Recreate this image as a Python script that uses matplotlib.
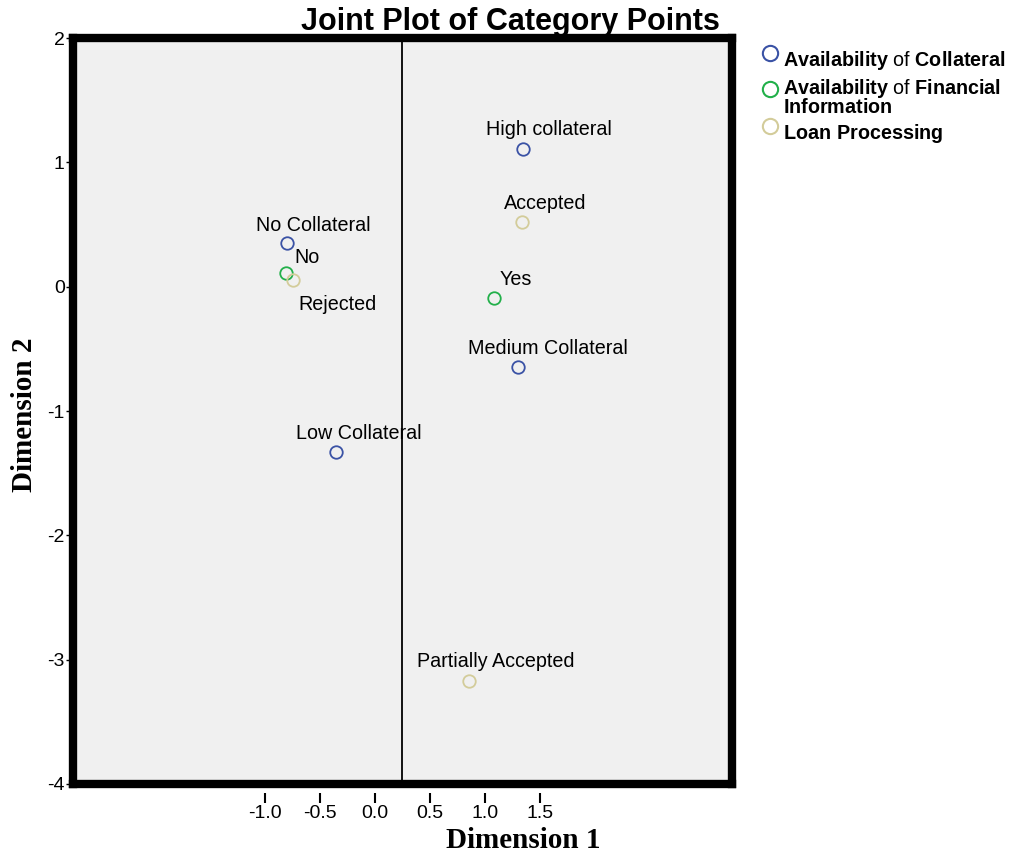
import matplotlib
matplotlib.use("Agg")
import matplotlib.pyplot as plt
from matplotlib.lines import Line2D

plt.rcParams['font.family'] = ['Liberation Sans', 'DejaVu Sans']
plt.rcParams['axes.unicode_minus'] = False
plt.rcParams['mathtext.fontset'] = 'custom'
plt.rcParams['mathtext.rm'] = 'Liberation Sans'
plt.rcParams['mathtext.bf'] = 'Liberation Sans:bold'

# category points (dimension 1, dimension 2)
labels = ["High collateral", "Accepted", "No Collateral", "No", "Rejected",
          "Yes", "Medium Collateral", "Low Collateral", "Partially Accepted"]
dim1 = [1.345, 1.336, -0.80, -0.81, -0.75, 1.08, 1.30, -0.36, 0.86]
dim2 = [1.11, 0.52, 0.35, 0.11, 0.05, -0.09, -0.65, -1.33, -3.17]
group = [0, 2, 0, 1, 2, 1, 0, 0, 2]

# legend entries, one list of text lines per variable
group_names = [[r"$\bf{Availability}$ of $\bf{Collateral}$"],
               [r"$\bf{Availability}$ of $\bf{Financial}$", r"$\bf{Information}$"],
               [r"$\bf{Loan\ Processing}$"]]
group_colors = ["#3a52a5", "#22b04a", "#d3cc9a"]

x_ticks = [-1.0, -0.5, 0.0, 0.5, 1.0, 1.5]
y_ticks = [-4, -3, -2, -1, 0, 1, 2]

# label offsets in points, relative to each point
offsets = [(19, 14), (17, 13), (19, 13), (15, 11.5), (32, -17),
           (16, 13), (22, 14), (17, 13), (19, 14)]

fig = plt.figure(figsize=(10.15, 8.57), dpi=100)
ax = fig.add_axes([73 / 1015, (857 - 784) / 857, 659 / 1015, 746 / 857])
ax.set_facecolor("#f0f0f0")
ax.set_xlim(-2.75, 3.25)
ax.set_ylim(-4, 2)

for s in ax.spines.values():
    s.set_linewidth(6)
    s.set_color("black")

ax.axvline(0.25, color="black", lw=1.3, zorder=1)

for x, y, g, lab, off in zip(dim1, dim2, group, labels, offsets):
    ax.plot(x, y, "o", ms=9, mfc="none", mec=group_colors[g], mew=1.3, zorder=3)
    ax.annotate(lab, (x, y), xytext=off, textcoords="offset points",
                ha="center", va="center", fontsize=14.2)

ax.set_xticks([])
ax.set_yticks(y_ticks)
ax.set_yticklabels([str(v) for v in y_ticks], fontsize=14)
ax.tick_params(axis="y", length=5, width=1, pad=1)

sec = ax.secondary_xaxis(-0.012)
sec.spines["bottom"].set_visible(False)
sec.set_xticks(x_ticks)
sec.set_xticklabels([f"{v:.1f}" for v in x_ticks], fontsize=14)
sec.tick_params(axis="x", length=7, width=1.5, pad=2)

fig.text(0.516, 1 - 840 / 857, "Dimension 1", family="Liberation Serif",
         fontweight="bold", fontsize=21, ha="center", va="center")
fig.text(25 / 1015, 1 - 415 / 857, "Dimension 2", family="Liberation Serif",
         fontweight="bold", fontsize=21, rotation=90, ha="center", va="center")
fig.text(0.503, 1 - 22 / 857, "Joint Plot of Category Points", fontweight="bold",
         fontsize=22, ha="center", va="center")

# legend to the right of the frame
marker_y = [53, 89, 126]
baseline_y = [[66], [94, 113], [139]]
for lines, col, my, bys in zip(group_names, group_colors, marker_y, baseline_y):
    fig.add_artist(Line2D([770 / 1015], [1 - my / 857], marker="o", ms=11,
                          mfc="none", mec=col, mew=1.5,
                          transform=fig.transFigure))
    for line, by in zip(lines, bys):
        fig.text(783 / 1015, 1 - by / 857, line, fontsize=14.2,
                 ha="left", va="baseline")

fig.savefig("out.png", dpi=100)
